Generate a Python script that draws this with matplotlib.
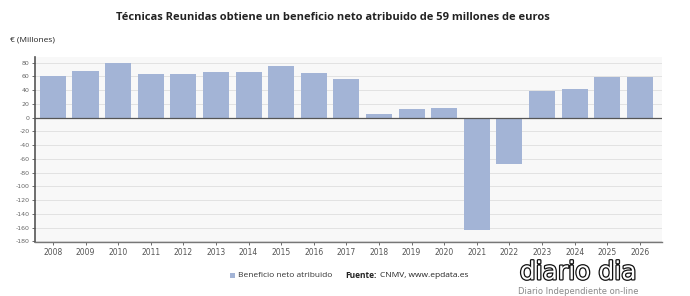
import matplotlib
matplotlib.use("Agg")
import matplotlib.pyplot as plt
import matplotlib.patheffects as pe

years = [str(y) for y in range(2008, 2027)]
values = [60, 68, 80, 64, 63, 66, 66, 74.5, 65, 56.5, 5.5, 13, 13.5, -164, -68, 38.5, 41.5, 59, 59]
yticks = list(range(-180, 81, 20))

bar_color = "#a3b4d6"
fig = plt.figure(figsize=(6.9, 2.96), dpi=100)
ax = fig.add_axes([0.0507, 0.182, 0.9083, 0.625])
ax.set_facecolor("#f8f8f8")
x = list(range(len(years)))
ax.bar(x, values, width=0.8, color=bar_color, zorder=3)
ax.set_xlim(-0.55, len(years) - 1 + 0.67)
ax.set_ylim(-181, 88)
ax.set_yticks(yticks)
ax.set_yticklabels([str(v) for v in yticks], fontsize=4.5, color="#666666")
ax.set_xticks(x)
ax.set_xticklabels(years, fontsize=5.5, color="#555555")
ax.tick_params(axis="both", length=2, width=0.6, color="#555555", pad=2)
ax.grid(axis="y", color="#e2e2e2", linewidth=0.7, zorder=0)
for s in ["top", "right"]:
    ax.spines[s].set_visible(False)
ax.spines["left"].set_color("#555555")
ax.spines["left"].set_linewidth(1.2)
ax.spines["bottom"].set_color("#777777")
ax.spines["bottom"].set_linewidth(1.0)
ax.axhline(0, color="#555555", linewidth=0.9, zorder=4)

fig.text(0.482, 0.94, "Técnicas Reunidas obtiene un beneficio neto atribuido de 59 millones de euros",
         ha="center", va="center", fontsize=8, fontweight="bold", color="#222222", family="Open Sans")
fig.text(0.014, 0.865, "€ (Millones)", ha="left", va="center", fontsize=6, color="#222222", family="Open Sans")

# legend
fig.patches.append(plt.Rectangle((0.333, 0.062), 0.007, 0.016, transform=fig.transFigure,
                                 facecolor=bar_color, edgecolor="none"))
fig.text(0.345, 0.07, "Beneficio neto atribuido", ha="left", va="center", fontsize=6,
         color="#333333", family="Open Sans")
fig.text(0.5, 0.07, "Fuente:", ha="left", va="center", fontsize=6, fontweight="bold",
         color="#222222", family="Open Sans")
fig.text(0.551, 0.07, "CNMV, www.epdata.es", ha="left", va="center", fontsize=6,
         color="#222222", family="Open Sans")

# watermark
wm = fig.text(0.838, 0.08, "diario dia", ha="center", va="center", fontsize=18, color="white",
              family="DejaVu Sans")
wm.set_path_effects([pe.withStroke(linewidth=1.8, foreground="#111111")])
fig.text(0.838, 0.016, "Diario Independiente on-line", ha="center", va="center", fontsize=6,
         color="#888888", family="DejaVu Sans")

fig.savefig("out.png", dpi=100)
